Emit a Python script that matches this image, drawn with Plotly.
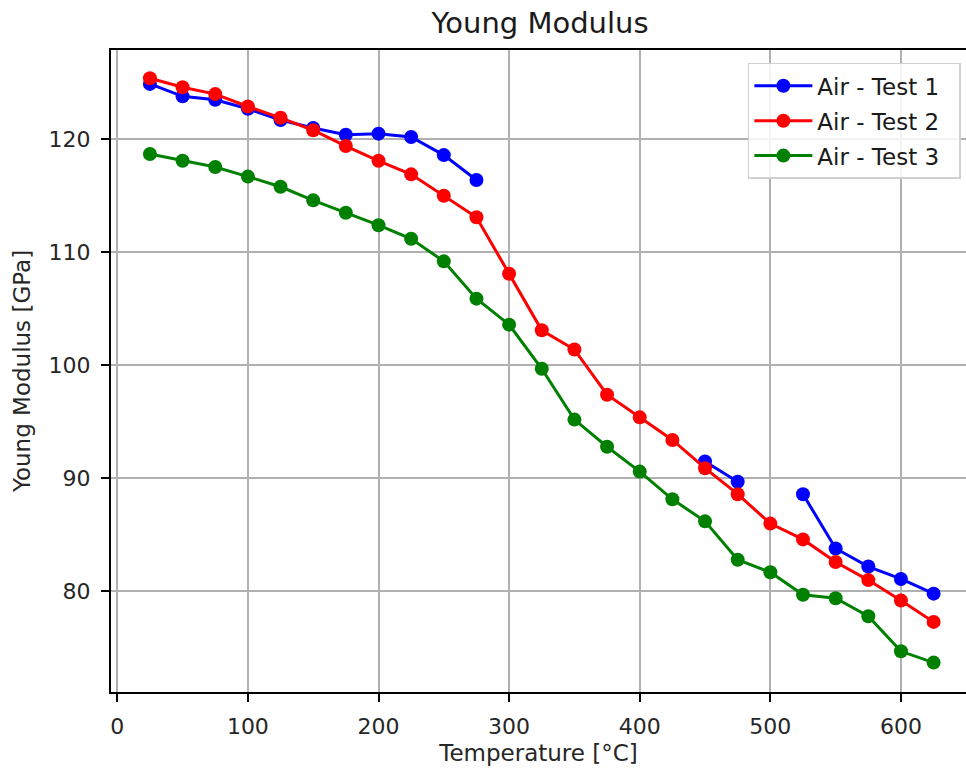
import plotly.graph_objects as go

temperature = [25, 50, 75, 100, 125, 150, 175, 200, 225, 250, 275, 300, 325,
               350, 375, 400, 425, 450, 475, 500, 525, 550, 575, 600, 625]

test1 = [124.9, 123.8, 123.5, 122.7, 121.7, 121.0, 120.4, 120.5, 120.2, 118.6, 116.4,
         None, None, None, None, None, None,
         91.5, 89.7, None, 88.6, 83.8, 82.2, 81.1, 79.8]
test2 = [125.4, 124.6, 124.0, 122.9, 121.9, 120.8, 119.4, 118.1, 116.9, 115.0, 113.1,
         108.1, 103.1, 101.4, 97.4, 95.4, 93.4, 90.9, 88.6, 86.0, 84.6, 82.6,
         81.0, 79.2, 77.3]
test3 = [118.7, 118.1, 117.55, 116.7, 115.8, 114.6, 113.5, 112.4, 111.2, 109.2, 105.9,
         103.6, 99.7, 95.2, 92.8, 90.6, 88.15, 86.2, 82.8, 81.7, 79.7, 79.4,
         77.8, 74.7, 73.7]

series_names = ["Air - Test 1", "Air - Test 2", "Air - Test 3"]
series_colors = ["#0000ff", "#ff0000", "#008000"]

fig = go.Figure()
for i, (name, vals, col) in enumerate(zip(series_names, [test1, test2, test3], series_colors)):
    fig.add_trace(go.Scatter(
        x=temperature, y=vals, name=name + "\u00a0\u00a0", mode="lines+markers",
        connectgaps=False, legendgroup=f"g{i}",
        line=dict(color=col, width=3),
        marker=dict(color=col, size=14),
    ))

font = "DejaVu Sans, sans-serif"
fig.update_layout(
    width=966, height=769,
    margin=dict(l=111, r=0, t=50, b=77),
    paper_bgcolor="white", plot_bgcolor="white",
    font=dict(family=font, size=22, color="#262626"),
    title=dict(text="Young Modulus", xref="container", x=0.559, xanchor="center",
               yref="container", y=0.970, yanchor="middle",
               font=dict(size=29, color="#1a1a1a")),
    legend=dict(x=0.994, y=0.980, xanchor="right", yanchor="top",
                bgcolor="rgba(255,255,255,0.85)", bordercolor="#d0d0d0", borderwidth=1.5,
                font=dict(size=23, color="#1a1a1a"), tracegroupgap=2,
                traceorder="grouped", itemwidth=58),
    showlegend=True,
)
fig.update_xaxes(
    range=[-4.8, 649.8], tickvals=[0, 100, 200, 300, 400, 500, 600],
    showgrid=True, gridcolor="#b0b0b0", gridwidth=1.8,
    showline=True, linecolor="black", linewidth=2, mirror=True,
    ticks="outside", ticklen=8, tickwidth=2, tickcolor="black", zeroline=False,
    tickfont=dict(size=22), ticklabelstandoff=6,
    title=dict(text="Temperature [°C]", font=dict(size=23), standoff=6),
)
fig.update_yaxes(
    range=[71.1, 127.9], tickvals=[80, 90, 100, 110, 120],
    showgrid=True, gridcolor="#b0b0b0", gridwidth=1.8,
    showline=True, linecolor="black", linewidth=2, mirror=False,
    ticks="outside", ticklen=8, tickwidth=2, tickcolor="black", zeroline=False,
    tickfont=dict(size=22), ticklabelstandoff=6,
    title=dict(text="Young Modulus [GPa]", font=dict(size=23), standoff=12),
)

fig.write_html("out.html")
